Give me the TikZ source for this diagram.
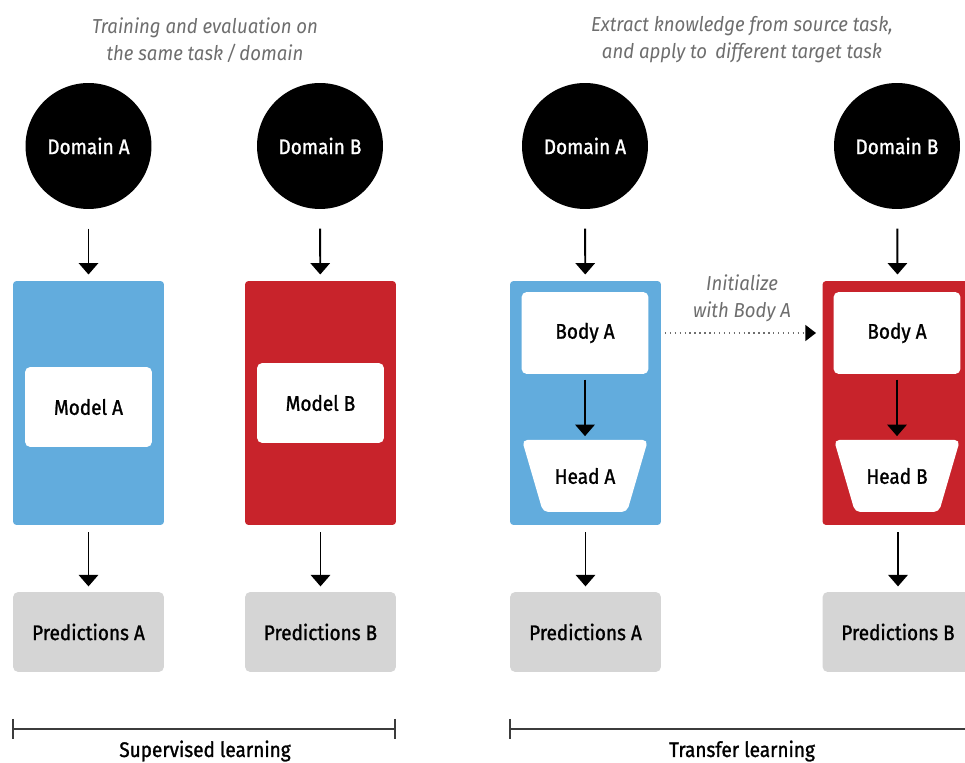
\documentclass[tikz,border=0pt]{standalone}
\usepackage{fontspec}
\setmainfont[FakeStretch=0.92]{Fira Sans}
\newfontfamily\labelfont[FakeStretch=0.9,FakeBold=1.2]{Fira Sans}
\usetikzlibrary{arrows.meta,calc,positioning}
\definecolor{boxblue}{HTML}{62ACDD}
\definecolor{boxred}{HTML}{C8232B}
\definecolor{predgray}{HTML}{D5D5D5}
\definecolor{notegray}{HTML}{6E6E6E}
\definecolor{rulegray}{HTML}{3C3C3C}
\def\headshape(#1){\fill[white, rounded corners=3pt] ($(#1)+(-63,-36)$) -- ($(#1)+(63,-36)$) -- ($(#1)+(42,36)$) -- ($(#1)+(-42,36)$) -- cycle;}

\tikzset{
	domaincirc/.style={circle, fill=black, text=white, minimum size=2.52cm, inner sep=0pt, font=\labelfont\fontsize{12}{14}\selectfont},
	modelbox/.style={rectangle, rounded corners=2pt, minimum width=3.02cm, minimum height=4.88cm, inner sep=0pt},
	partbox/.style={rectangle, rounded corners=3pt, fill=white, minimum width=2.54cm, minimum height=1.64cm, font=\labelfont\fontsize{12}{14}\selectfont},
	headbox/.style={rectangle, minimum width=2.52cm, minimum height=1.44cm, inner sep=0pt, font=\labelfont\fontsize{12}{14}\selectfont},
	predbox/.style={rectangle, rounded corners=3pt, fill=predgray, minimum width=3.02cm, minimum height=1.6cm, font=\labelfont\fontsize{12}{14}\selectfont},
	notetext/.style={text=notegray, align=center, font=\itshape\fontsize{11.5}{15.3}\selectfont},
	flowarrow/.style={line width=1.1pt, -{Triangle[width=11pt,length=6.5pt]}},
	rulerline/.style={line width=1.1pt, draw=rulegray}
}

\begin{document}
\begin{tikzpicture}[x=0.02cm, y=-0.02cm]
			%%%%% START %%%%%
			\clip (0, 0) rectangle (965, 763);
			\fill[white] (0, 0) rectangle (965, 763);
			
			% supervised learning
			\node[notetext] (noteS) at (205, 40) {Training and evaluation on\\the same task\,/\,domain};
			
			\node[domaincirc] (dSA) at (88.5, 146) {Domain A};
			\node[domaincirc] (dSB) at (320, 146) {Domain B};
			
			\node[modelbox, fill=boxblue] (mSA) at (88.5, 403) {};
			\node[modelbox, fill=boxred] (mSB) at (320.5, 403) {};
			\node[partbox, minimum height=1.6cm] (bSA) at (88.5, 407) {Model A};
			\node[partbox, minimum height=1.6cm] (bSB) at (320.5, 403) {Model B};
			
			\node[predbox] (pSA) at (88.5, 632) {Predictions A};
			\node[predbox] (pSB) at (320.5, 632) {Predictions B};
			
			\draw[flowarrow, shorten <=11pt, shorten >=3.5pt] (dSA) -- (mSA);
			\draw[flowarrow, shorten <=11pt, shorten >=3.5pt] (dSB) -- (mSB);
			\draw[flowarrow, shorten <=4pt, shorten >=3pt] (mSA) -- (pSA);
			\draw[flowarrow, shorten <=4pt, shorten >=3pt] (mSB) -- (pSB);
			
			% transfer learning
			\node[notetext] (noteT) at (742, 40) {Extract knowledge from source task,\\and apply to\, different target task};
			
			\node[domaincirc] (dTA) at (585, 146) {Domain A};
			\node[domaincirc] (dTB) at (897, 146) {Domain B};
			
			\node[modelbox, fill=boxblue] (mTA) at (585.5, 403) {};
			\node[modelbox, fill=boxred] (mTB) at (898, 403) {};
			\node[partbox] (bTA) at (585, 333) {Body A};
			\node[partbox] (bTB) at (897, 333) {Body A};
			
			\coordinate (hA) at (585, 476);
			\coordinate (hB) at (897, 476);
			\headshape(hA)
			\headshape(hB)
			\node[headbox] (hTA) at (hA) {Head A};
			\node[headbox] (hTB) at (hB) {Head B};
			
			\node[predbox] (pTA) at (585.5, 632) {Predictions A};
			\node[predbox] (pTB) at (898, 632) {Predictions B};
			
			\draw[flowarrow, shorten <=11pt, shorten >=3.5pt] (dTA) -- (mTA);
			\draw[flowarrow, shorten <=11pt, shorten >=3.5pt] (dTB) -- (mTB);
			\draw[flowarrow, shorten <=3pt, shorten >=2pt] (bTA) -- (hTA);
			\draw[flowarrow, shorten <=3pt, shorten >=2pt] (bTB) -- (hTB);
			\draw[flowarrow, shorten <=4pt, shorten >=3pt] (mTA) -- (pTA);
			\draw[flowarrow, shorten <=4pt, shorten >=3pt] (mTB) -- (pTB);
			
			\draw[line width=0.8pt, notegray, dotted, -{Triangle[width=9pt,length=6pt,black]}, shorten <=2pt, shorten >=3.5pt] (mTA.east |- bTA) -- (mTB.west |- bTB);
			\node[notetext] (init) at (742, 298) {Initialize\\with Body A};
			
			% scales
			\coordinate (sL0) at (13, 729);
			\coordinate (sL1) at (395, 729);
			\coordinate (sR0) at (510, 729);
			\coordinate (sR1) at (974, 729);
			\draw[rulerline] (sL0) -- (sL1);
			\draw[rulerline] ($(sL0)+(0,-10)$) -- ++(0, 20);
			\draw[rulerline] ($(sL1)+(0,-10)$) -- ++(0, 20);
			\draw[rulerline] (sR0) -- (sR1);
			\draw[rulerline] ($(sR0)+(0,-10)$) -- ++(0, 20);
			\node[anchor=base, font=\labelfont\fontsize{12}{14}\selectfont] (labS) at (205, 757) {Supervised learning};
			\node[anchor=base, font=\labelfont\fontsize{12}{14}\selectfont] (labT) at (742, 757) {Transfer learning};
			
			%%%%% END %%%%%
\end{tikzpicture}
\end{document}
